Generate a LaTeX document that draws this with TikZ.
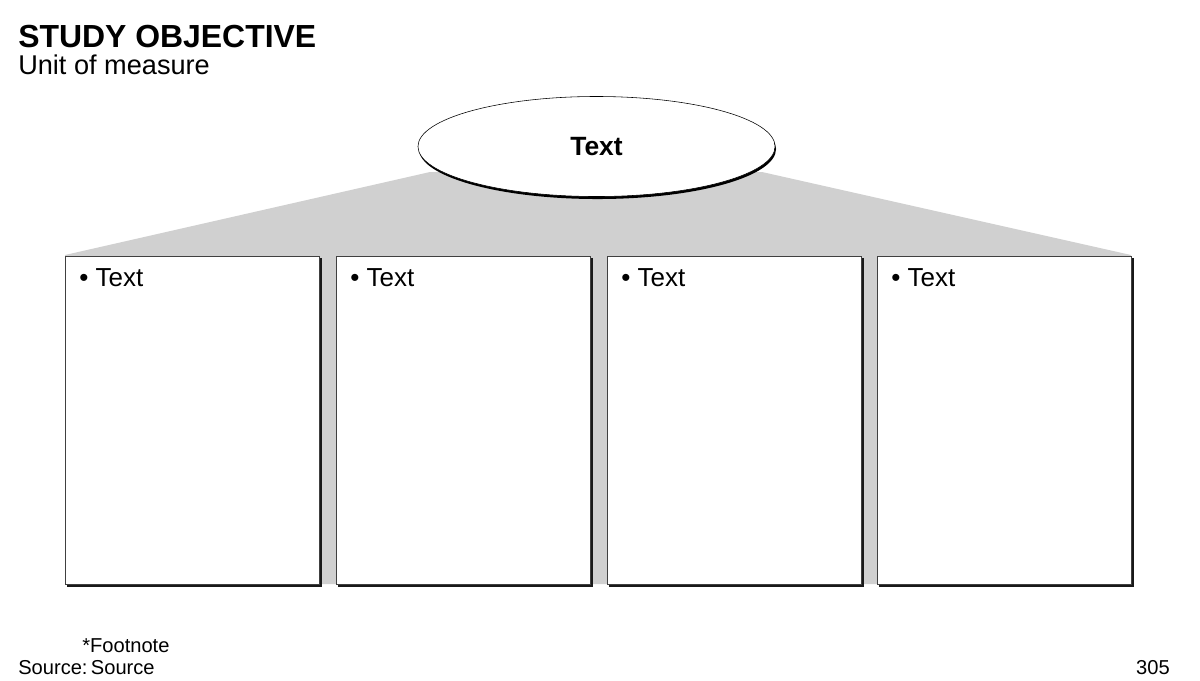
\documentclass[tikz,border=0pt]{standalone}
\usepackage{fontspec}
\setmainfont{Liberation Sans}
\usetikzlibrary{shapes.geometric}
\definecolor{backgray}{HTML}{D0D0D0}
\begin{document}
\begin{tikzpicture}[x=0.025cm,y=-0.025cm,
    title/.style={anchor=base west,inner sep=0pt,font=\fontsize{22.7}{27}\selectfont\bfseries},
    subtitle/.style={anchor=base west,inner sep=0pt,font=\fontsize{19.3}{23}\selectfont},
    small/.style={anchor=base west,inner sep=0pt,font=\fontsize{14.3}{17}\selectfont},
    hub/.style={ellipse,draw,thin,fill=white,inner sep=0pt,minimum width=8.925cm,minimum height=2.5cm,
      font=\fontsize{18.8}{22}\selectfont\bfseries},
    hubshadow/.style={ellipse,fill=black,inner sep=0pt,minimum width=8.925cm,minimum height=2.5cm},
    panel/.style={rectangle,draw=black!75,fill=white,inner sep=0pt,minimum width=6.35cm,minimum height=8.2cm},
    panelshadow/.style={rectangle,fill=black!90,inner sep=0pt,minimum width=6.35cm,minimum height=8.2cm},
    bullet/.style={anchor=base west,inner sep=0pt,font=\fontsize{18.5}{22}\selectfont}]
  \useasboundingbox (0,0) rectangle (1200,680);

  % header
  \node[title] (head) at (18,47.5) {STUDY OBJECTIVE};
  \node[subtitle] (unit) at (18,74) {Unit of measure};

  % grey backdrop behind the panels
  \fill[backgray] (430,172) -- (65,255) -- (65,584) -- (1131,584) -- (1131,255) -- (762,172) -- cycle;

  % top ellipse
  \node[hubshadow] (tops) at (597.5,149) {};
  \node[hub] (top) at (596.5,146.5) {Text};

  % four panels
  \foreach \x/\i in {65/1,336/2,607/3,877/4}{
    \node[panelshadow] (s\i) at (\x+129.5,422.5) {};
    \node[panel] (p\i) at (\x+127,420) {};
    \node[bullet] (b\i) at (\x+14,286) {\textbullet\ Text};
  }

  % footer
  \node[small] (foot) at (82,652) {*Footnote};
  \node[small] (src) at (18,674) {Source:\,Source};
  \node[small,anchor=base east] (page) at (1170,674) {305};
\end{tikzpicture}
\end{document}
